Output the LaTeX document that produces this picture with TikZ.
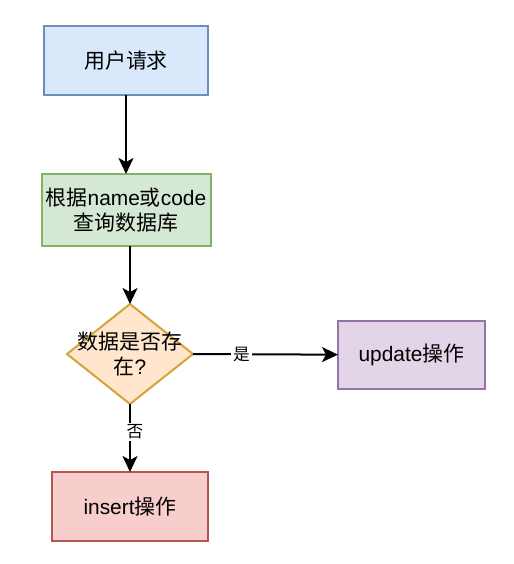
\documentclass[tikz,border=0pt]{standalone}
\usepackage{fontspec}
\setmainfont{Liberation Sans}
\newfontfamily\cjk{Noto Sans CJK SC}
\usetikzlibrary{arrows.meta,positioning,shapes.geometric}
\definecolor{ink}{HTML}{000000}
\definecolor{bluefill}{HTML}{DAE8FC}
\definecolor{blueline}{HTML}{6C8EBF}
\definecolor{greenfill}{HTML}{D5E8D4}
\definecolor{greenline}{HTML}{82B366}
\definecolor{orangefill}{HTML}{FFE6CC}
\definecolor{orangeline}{HTML}{D6A23C}
\definecolor{purplefill}{HTML}{E1D5E7}
\definecolor{purpleline}{HTML}{9673A6}
\definecolor{redfill}{HTML}{F8CECC}
\definecolor{redline}{HTML}{B85450}
\tikzset{
  flowbox/.style={line width=0.04cm,outer sep=0pt,inner sep=0pt,align=center,text=ink,font=\fontsize{11.9}{14.2}\selectfont},
  flowline/.style={-{Stealth[length=0.32cm,width=0.3cm,inset=0.08cm]},line width=0.04cm,draw=ink},
  edgelabel/.style={fill=white,inner sep=1pt,text=ink,font=\fontsize{9.5}{11}\selectfont\cjk}
}
\begin{document}
\begin{tikzpicture}
  \useasboundingbox (0,0) rectangle (10.28,-11.28);
  \node[flowbox,draw=blueline,fill=bluefill,minimum width=3.28cm,minimum height=1.38cm] (request) at (2.52,-1.21) {\cjk 用户请求};
  \node[flowbox,draw=greenline,fill=greenfill,minimum width=3.38cm,minimum height=1.44cm,below=1.58cm of request] (query) {{\cjk 根据}name{\cjk 或}code\\{\cjk 查询数据库}};
  \node[flowbox,draw=orangeline,fill=orangefill,diamond,minimum width=2.52cm,minimum height=2cm,below=1.16cm of query,xshift=0.08cm] (check) {};
  \node[flowbox,at=(check)] (checktext) {{\cjk 数据是否存}\\{\cjk 在}?};
  \node[flowbox,draw=purpleline,fill=purplefill,minimum width=2.94cm,minimum height=1.36cm,right=2.9cm of check,yshift=-0.02cm] (update) {update{\cjk 操作}};
  \node[flowbox,draw=redline,fill=redfill,minimum width=3.12cm,minimum height=1.38cm,below=1.36cm of check] (insert) {insert{\cjk 操作}};
  \draw[flowline] (request)--(query);
  \draw[flowline] (check.north |- query.south)--(check);
  \draw[flowline] (check.east)--(update) node[edgelabel,pos=0.335] (yes) {是};
  \draw[flowline] (check)--(insert) node[edgelabel,pos=0.41,xshift=0.1cm] (no) {否};
\end{tikzpicture}
\end{document}
